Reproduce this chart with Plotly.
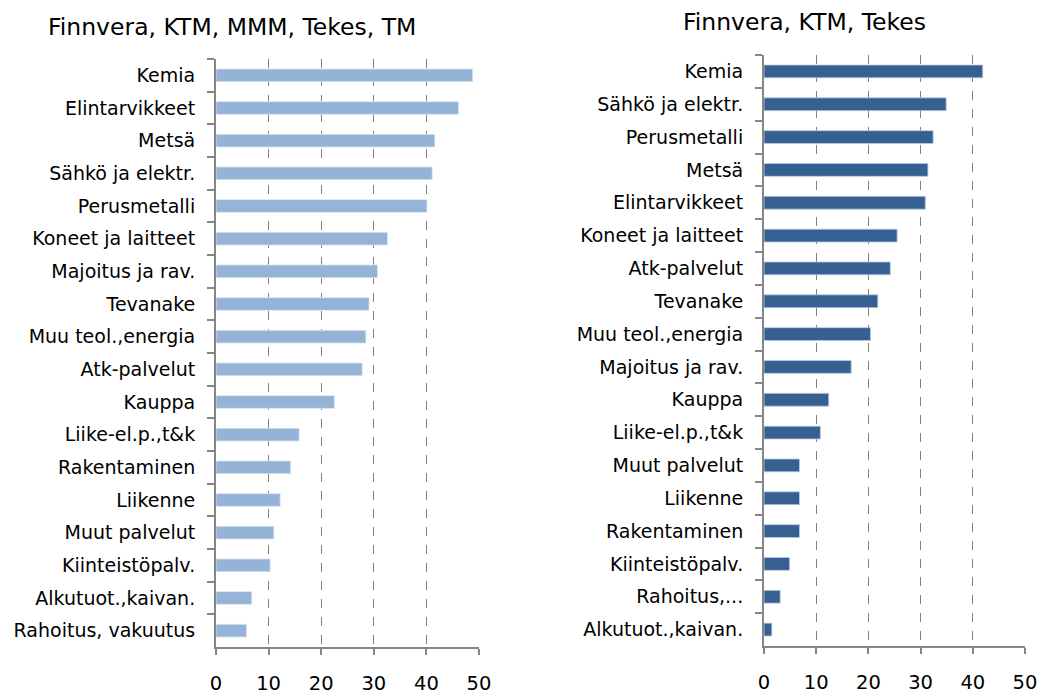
import plotly.graph_objects as go

# Left panel: Finnvera, KTM, MMM, Tekes, TM
left_categories = ["Kemia", "Elintarvikkeet", "Metsä", "Sähkö ja elektr.", "Perusmetalli",
                   "Koneet ja laitteet", "Majoitus ja rav.", "Tevanake", "Muu teol.,energia",
                   "Atk-palvelut", "Kauppa", "Liike-el.p.,t&k", "Rakentaminen", "Liikenne",
                   "Muut palvelut", "Kiinteistöpalv.", "Alkutuot.,kaivan.", "Rahoitus, vakuutus"]
left_values = [48.8, 46.1, 41.6, 41.1, 40.1, 32.6, 30.7, 29.1, 28.5, 27.8,
               22.5, 15.8, 14.2, 12.2, 11.0, 10.3, 6.8, 5.8]

# Right panel: Finnvera, KTM, Tekes
right_categories = ["Kemia", "Sähkö ja elektr.", "Perusmetalli", "Metsä", "Elintarvikkeet",
                    "Koneet ja laitteet", "Atk-palvelut", "Tevanake", "Muu teol.,energia",
                    "Majoitus ja rav.", "Kauppa", "Liike-el.p.,t&k", "Muut palvelut", "Liikenne",
                    "Rakentaminen", "Kiinteistöpalv.", "Rahoitus,...", "Alkutuot.,kaivan."]
right_values = [41.9, 34.9, 32.4, 31.4, 30.9, 25.5, 24.2, 21.8, 20.4, 16.7,
                12.4, 10.8, 6.8, 6.8, 6.8, 4.9, 3.1, 1.5]

x_ticks = [0, 10, 20, 30, 40, 50]
titles = ["Finnvera, KTM, MMM, Tekes, TM", "Finnvera, KTM, Tekes"]

FONT = "DejaVu Sans"
W, H = 1040, 695

fig = go.Figure()
fig.add_trace(go.Bar(y=left_categories, x=left_values, orientation="h",
                     marker=dict(color="#95B3D7", line=dict(color="#DCE6F2", width=0.8)),
                     width=0.39, xaxis="x", yaxis="y", showlegend=False))
fig.add_trace(go.Bar(y=right_categories, x=right_values, orientation="h",
                     marker=dict(color="#376092", line=dict(color="#B9CDE5", width=0.8)),
                     width=0.39, xaxis="x2", yaxis="y2", showlegend=False))

def xax(domain, anchor):
    return dict(domain=domain, anchor=anchor, range=[0, 50], tickvals=x_ticks,
                automargin=False,
                showgrid=True, gridcolor="#808080", griddash="dash", gridwidth=1,
                showline=True, linecolor="#868686", linewidth=2,
                ticks="outside", ticklen=6, tickcolor="#868686", tickwidth=1.5,
                ticklabelstandoff=12, zeroline=False,
                tickfont=dict(family=FONT, size=19.5, color="#000"), fixedrange=True)

def yax(domain, anchor):
    return dict(domain=domain, anchor=anchor, autorange="reversed", type="category",
                automargin=False,
                showline=True, linecolor="#868686", linewidth=2,
                ticks="outside", tickson="boundaries", ticklen=7, tickcolor="#868686",
                tickwidth=1.5, ticklabelstandoff=15, showgrid=False,
                tickfont=dict(family=FONT, size=19, color="#000"), fixedrange=True)

fig.update_layout(
    width=W, height=H,
    margin=dict(l=0, r=0, t=0, b=0),
    paper_bgcolor="white", plot_bgcolor="white",
    bargap=0.6,
    xaxis=xax([216 / W, 479 / W], "y"),
    yaxis=yax([(H - 647) / H, (H - 59) / H], "x"),
    xaxis2=xax([764 / W, 1025 / W], "y2"),
    yaxis2=yax([(H - 646) / H, (H - 55) / H], "x2"),
    annotations=[
        dict(text=titles[0], x=232 / W, y=1 - 27 / H, xref="paper", yref="paper",
             showarrow=False, xanchor="center", yanchor="middle",
             font=dict(family=FONT, size=23.5, color="#000")),
        dict(text=titles[1], x=804 / W, y=1 - 22 / H, xref="paper", yref="paper",
             showarrow=False, xanchor="center", yanchor="middle",
             font=dict(family=FONT, size=23.5, color="#000")),
    ],
)

fig.write_html("out.html", config={"displayModeBar": False},
               post_script="document.body.style.margin='0';document.body.style.overflow='hidden';")
